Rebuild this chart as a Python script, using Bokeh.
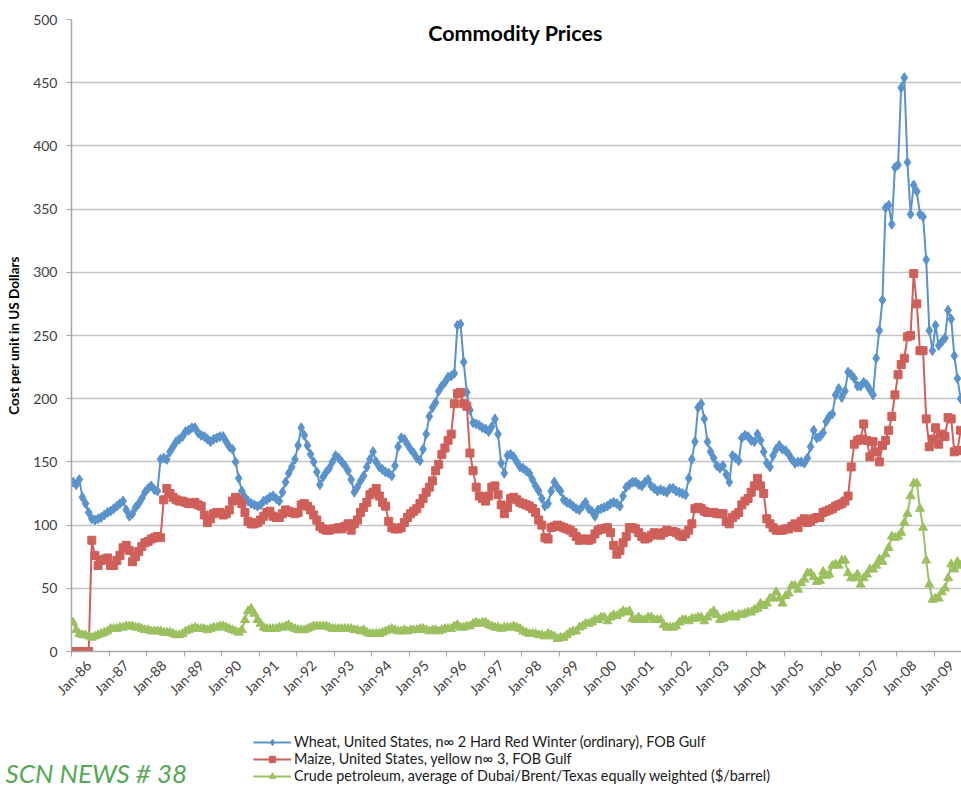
from bokeh.plotting import figure
from bokeh.layouts import column
from bokeh.models import Range1d, FixedTicker, Label, Legend, LegendItem
from bokeh.embed import file_html
from bokeh.resources import INLINE

# ---------------- data (monthly, Jan-86 .. Sep-09) ----------------
tick_labels = ["Jan-86", "Jan-87", "Jan-88", "Jan-89", "Jan-90", "Jan-91", "Jan-92",
               "Jan-93", "Jan-94", "Jan-95", "Jan-96", "Jan-97", "Jan-98", "Jan-99",
               "Jan-00", "Jan-01", "Jan-02", "Jan-03", "Jan-04", "Jan-05", "Jan-06",
               "Jan-07", "Jan-08", "Jan-09"]
y_ticks = [0, 50, 100, 150, 200, 250, 300, 350, 400, 450, 500]

wheat = [
    134, 132, 136, 122, 117, 110, 105, 104, 105, 106, 108, 110,   # 1986
    111, 113, 115, 117, 119, 112, 107, 109, 114, 117, 121, 126,   # 1987
    129, 131, 128, 127, 152, 153, 152, 158, 162, 166, 168, 170,   # 1988
    174, 175, 177, 177, 173, 171, 170, 168, 166, 168, 169, 170,   # 1989
    170, 166, 162, 160, 150, 137, 127, 122, 119, 117, 116, 115,   # 1990
    116, 119, 120, 122, 123, 121, 119, 126, 134, 141, 146, 152,   # 1991
    163, 177, 171, 163, 156, 150, 142, 132, 138, 142, 145, 150,   # 1992
    155, 153, 150, 147, 143, 136, 126, 130, 135, 139, 146, 152,   # 1993
    158, 150, 146, 144, 142, 141, 139, 147, 162, 169, 168, 164,   # 1994
    160, 157, 153, 151, 160, 172, 186, 193, 197, 206, 210, 213,   # 1995
    217, 218, 220, 258, 259, 229, 205, 191, 181, 180, 179, 177,   # 1996
    176, 174, 178, 184, 172, 149, 141, 155, 156, 154, 150, 146,   # 1997
    145, 143, 141, 136, 131, 127, 121, 115, 117, 127, 134, 130,   # 1998
    127, 120, 118, 117, 115, 113, 112, 115, 118, 113, 111, 107,   # 1999
    112, 113, 114, 115, 117, 118, 117, 115, 123, 130, 132, 134,   # 2000
    134, 132, 131, 134, 136, 131, 129, 127, 128, 127, 126, 129,   # 2001
    129, 127, 126, 125, 124, 137, 152, 166, 193, 196, 184, 166,   # 2002
    158, 153, 147, 145, 147, 140, 134, 155, 153, 151, 169, 171,   # 2003
    170, 167, 166, 172, 167, 158, 149, 146, 155, 160, 163, 160,   # 2004
    159, 156, 152, 149, 150, 150, 149, 153, 162, 175, 169, 170,   # 2005
    173, 182, 186, 188, 203, 208, 201, 206, 221, 219, 216, 210,   # 2006
    210, 213, 211, 207, 203, 232, 254, 278, 351, 353, 338, 383,   # 2007
    385, 446, 454, 387, 346, 369, 364, 346, 344, 310, 254, 238,   # 2008
    258, 242, 245, 248, 270, 263, 234, 216, 200,                  # 2009
]

maize = [
    0, 0, 0, 0, 0, 0, 88, 76, 68, 72, 73, 74,                     # 1986
    68, 68, 72, 76, 82, 84, 80, 71, 75, 79, 83, 86,               # 1987
    87, 89, 90, 91, 90, 120, 129, 125, 122, 120, 119, 119,        # 1988
    118, 117, 117, 118, 116, 115, 108, 102, 105, 109, 110, 110,   # 1989
    108, 109, 112, 119, 122, 120, 117, 110, 103, 101, 101, 102,   # 1990
    104, 107, 110, 111, 107, 106, 106, 109, 112, 111, 110, 109,   # 1991
    110, 116, 117, 115, 112, 108, 104, 99, 97, 96, 96, 97,        # 1992
    97, 98, 97, 99, 101, 96, 101, 104, 110, 114, 118, 124,        # 1993
    126, 129, 123, 118, 115, 103, 98, 97, 97, 98, 102, 106,       # 1994
    109, 111, 113, 117, 121, 126, 130, 135, 143, 148, 156, 161,   # 1995
    167, 172, 196, 204, 205, 196, 194, 157, 143, 130, 123, 121,   # 1996
    119, 123, 130, 131, 124, 116, 109, 114, 121, 122, 120, 118,   # 1997
    117, 116, 115, 113, 110, 104, 100, 90, 89, 98, 99, 100,       # 1998
    99, 98, 97, 96, 94, 91, 88, 89, 89, 88, 89, 93,               # 1999
    96, 97, 97, 98, 94, 84, 77, 80, 86, 91, 98, 98,               # 2000
    97, 94, 91, 89, 90, 92, 94, 93, 92, 94, 96, 95,               # 2001
    95, 94, 92, 91, 93, 96, 101, 113, 114, 113, 111, 110,         # 2002
    110, 110, 109, 109, 109, 103, 101, 106, 108, 110, 116, 119,   # 2003
    121, 126, 131, 137, 131, 125, 105, 101, 98, 96, 96, 96,       # 2004
    97, 97, 99, 101, 98, 103, 105, 102, 103, 105, 106, 106,       # 2005
    110, 111, 112, 113, 115, 116, 117, 119, 123, 146, 164, 167,   # 2006
    168, 180, 167, 154, 166, 158, 150, 163, 167, 175, 186, 203,   # 2007
    219, 227, 232, 249, 250, 299, 275, 238, 238, 184, 162, 168,   # 2008
    177, 164, 172, 170, 185, 184, 158, 159, 175,                  # 2009
]

oil = [
    23, 17, 14, 13, 13, 12, 11, 12, 13, 14, 15, 16,               # 1986
    18, 18, 18, 19, 19, 20, 20, 20, 19, 19, 18, 17,               # 1987
    17, 16, 16, 16, 16, 15, 15, 15, 14, 13, 13, 14,               # 1988
    16, 17, 18, 19, 18, 18, 18, 17, 18, 19, 19, 20,               # 1989
    20, 19, 18, 17, 16, 15, 17, 25, 32, 34, 30, 25,               # 1990
    22, 19, 18, 18, 18, 18, 19, 19, 20, 21, 19, 18,               # 1991
    17, 17, 17, 18, 19, 20, 20, 20, 20, 20, 19, 18,               # 1992
    18, 18, 18, 18, 18, 18, 17, 17, 16, 17, 15, 14,               # 1993
    14, 14, 14, 15, 16, 17, 18, 17, 16, 16, 17, 16,               # 1994
    17, 17, 17, 18, 18, 17, 16, 17, 17, 16, 17, 18,               # 1995
    18, 18, 20, 21, 19, 19, 20, 20, 22, 23, 22, 23,               # 1996
    23, 21, 20, 19, 19, 18, 19, 19, 19, 20, 19, 18,               # 1997
    16, 15, 14, 14, 14, 13, 13, 12, 14, 13, 12, 10,               # 1998
    11, 11, 13, 15, 16, 16, 19, 20, 22, 22, 23, 25,               # 1999
    25, 27, 27, 24, 27, 29, 28, 30, 32, 31, 32, 26,               # 2000
    25, 27, 25, 25, 27, 27, 25, 25, 25, 21, 19, 19,               # 2001
    19, 20, 23, 25, 25, 24, 26, 26, 27, 27, 24, 27,               # 2002
    30, 32, 29, 25, 26, 27, 28, 29, 27, 29, 29, 30,               # 2003
    31, 31, 33, 34, 38, 36, 38, 42, 42, 47, 42, 38,               # 2004
    44, 46, 52, 52, 49, 54, 57, 62, 62, 59, 55, 56,               # 2005
    63, 60, 61, 68, 69, 68, 72, 72, 62, 58, 58, 61,               # 2006
    53, 58, 61, 65, 65, 68, 73, 71, 77, 82, 91, 90,               # 2007
    91, 94, 102, 109, 123, 133, 133, 113, 98, 72, 53, 41,         # 2008
    42, 42, 47, 50, 58, 69, 65, 71, 68,                           # 2009
]

series_names = [
    "Wheat, United States, n\u221e 2 Hard Red Winter (ordinary), FOB Gulf",
    "Maize, United States, yellow n\u221e 3, FOB Gulf",
    "Crude petroleum, average of Dubai/Brent/Texas equally weighted ($/barrel)",
]
title_text = "Commodity Prices"
y_title = "Cost per unit in US Dollars"
footer_text = "SCN NEWS # 38"

# ---------------- main chart ----------------
months = list(range(len(wheat)))
label_shift = 5          # Excel draws its rotated labels a little right of the category
label_pos = [12 * k + label_shift for k in range(len(tick_labels))]
bound_pos = [12 * k - 0.5 for k in range(len(tick_labels) + 1)]

H_MAIN = 713
p = figure(width=961, height=H_MAIN, output_backend="svg", toolbar_location=None,
           x_range=Range1d(-0.5, 284.3), y_range=Range1d(0, 500),
           min_border_left=71, min_border_right=0, min_border_top=19,
           min_border_bottom=H_MAIN - 651)
p.frame_align = False
p.outline_line_color = None
p.background_fill_color = "white"
p.border_fill_color = "white"

axis_col = "#A6A6A6"
tick_font = "Lato"

p.yaxis.ticker = FixedTicker(ticks=y_ticks)
p.yaxis.minor_tick_line_color = None
p.yaxis.major_tick_out = 5
p.yaxis.major_tick_in = 0
p.yaxis.major_tick_line_color = axis_col
p.yaxis.axis_line_color = axis_col
p.yaxis.axis_line_width = 1.5
p.yaxis.major_label_text_font = tick_font
p.yaxis.major_label_text_font_size = "14px"
p.yaxis.major_label_text_color = "#404040"
p.yaxis.major_label_standoff = 9
p.yaxis.axis_label = y_title
p.yaxis.axis_label_text_font = tick_font
p.yaxis.axis_label_text_font_style = "bold"
p.yaxis.axis_label_text_font_size = "13.5px"
p.yaxis.axis_label_text_color = "black"
p.yaxis.axis_label_standoff = 8

p.xaxis.ticker = FixedTicker(ticks=label_pos, minor_ticks=bound_pos)
p.xaxis.major_label_overrides = {t: lab for t, lab in zip(label_pos, tick_labels)}
p.xaxis.major_label_orientation = 0.785398
p.xaxis.major_tick_line_color = None
p.xaxis.major_tick_out = 0
p.xaxis.major_tick_in = 0
p.xaxis.minor_tick_line_color = axis_col
p.xaxis.minor_tick_out = 5
p.xaxis.minor_tick_in = 0
p.xaxis.axis_line_color = axis_col
p.xaxis.axis_line_width = 1.5
p.xaxis.major_label_text_font = tick_font
p.xaxis.major_label_text_font_size = "14px"
p.xaxis.major_label_text_color = "#404040"
p.xaxis.major_label_standoff = 6

p.ygrid.ticker = FixedTicker(ticks=y_ticks)
p.ygrid.grid_line_color = "#C4C4C4"
p.ygrid.grid_line_width = 1.5
p.xgrid.grid_line_color = None

c_wheat, c_maize, c_oil = "#5A93CB", "#CF5F59", "#9CC05F"
styles = [(c_wheat, "diamond", 10), (c_maize, "square", 8), (c_oil, "triangle", 9)]

for vals, (col, mk, sz) in zip([wheat, maize, oil], styles):
    p.line(months, vals, line_color=col, line_width=2)
    p.scatter(months, vals, marker=mk, size=sz, fill_color=col, line_color=col)

p.add_layout(Label(x=141.6, y=489.7, text=title_text, text_align="center",
                   text_baseline="middle", text_font="Lato", text_font_style="bold",
                   text_font_size="21.5px", text_color="black"))

# ---------------- legend strip below the chart ----------------
H_LEG = 785 - H_MAIN
q = figure(width=961, height=H_LEG, output_backend="svg", toolbar_location=None,
           x_range=Range1d(0, 961), y_range=Range1d(H_LEG, 0),
           x_axis_location=None, y_axis_location=None,
           min_border_left=0, min_border_right=0, min_border_top=0, min_border_bottom=0)
q.frame_align = False
q.outline_line_color = None
q.xgrid.grid_line_color = None
q.ygrid.grid_line_color = None
q.background_fill_color = "white"
q.border_fill_color = "white"

items = []
for name, (col, mk, sz) in zip(series_names, styles):
    # one off-frame point each, so the legend has something to draw its swatch from
    rl = q.line([-50, -40], [-50, -50], line_color=col, line_width=2)
    rm = q.scatter([-50], [-50], marker=mk, size=sz, fill_color=col, line_color=col)
    items.append(LegendItem(label=name, renderers=[rl, rm]))

legend = Legend(items=items, location=(253, 1), orientation="vertical",
                padding=0, margin=0, spacing=0,
                glyph_width=38, glyph_height=16, label_height=16, label_standoff=3,
                label_text_font="Lato", label_text_font_size="14.4px",
                label_text_color="#202020",
                border_line_color=None, background_fill_alpha=0)
q.add_layout(legend)

q.add_layout(Label(x=5, y=772 - H_MAIN, text=footer_text, text_align="left",
                   text_baseline="alphabetic", text_font="Lato",
                   text_font_style="italic", text_font_size="26px", text_color="#55A855"))

page = column(p, q, spacing=0)
open("out.html", "w").write(file_html(page, INLINE))
